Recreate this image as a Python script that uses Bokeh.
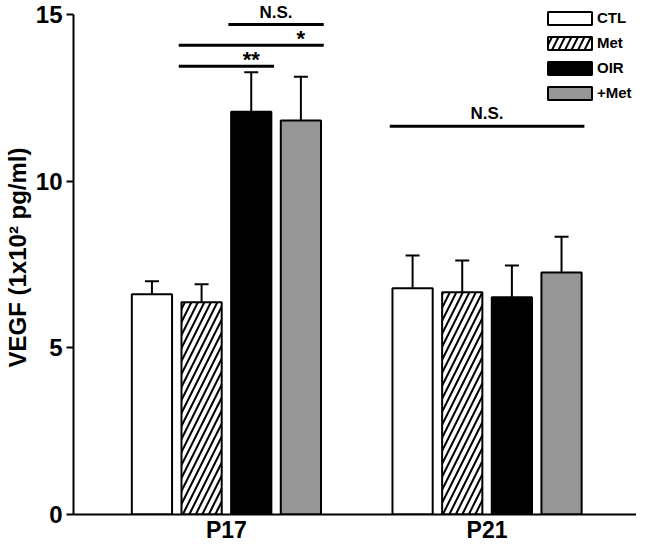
from bokeh.plotting import figure
from bokeh.models import (Range1d, FixedTicker, Whisker, TeeHead, ColumnDataSource,
                          Legend, LegendItem)
from bokeh.core.properties import value
from bokeh.embed import file_html
from bokeh.resources import INLINE

# ---------------- data ----------------
groups = ["P17", "P21"]
series = ["CTL", "Met", "OIR", "+Met"]
mean_p17 = [6.61, 6.37, 12.08, 11.82]
mean_p21 = [6.79, 6.67, 6.52, 7.26]
sem_p17 = [0.39, 0.54, 1.19, 1.31]
sem_p21 = [0.98, 0.95, 0.95, 1.07]
y_ticks = [0, 5, 10, 15]

# significance annotations
sig_group = ["P17", "P17", "P17", "P21"]
sig_from = ["Met", "Met", "OIR", "CTL"]
sig_to = ["OIR", "+Met", "+Met", "+Met"]
sig_label = ["**", "*", "N.S.", "N.S."]
sig_level = [13.45, 14.08, 14.70, 11.65]

# ---------------- layout / style ----------------
FONT = "Liberation Sans"
group_pos = {"P17": 0.0, "P21": 5.25}
bar_width = 0.81
fills = {"CTL": "white", "Met": "white", "OIR": "black", "+Met": "#969696"}
hatches = {"CTL": None, "Met": "/", "OIR": None, "+Met": None}

means = {"P17": mean_p17, "P21": mean_p21}
sems = {"P17": sem_p17, "P21": sem_p21}

def bar_x(g, s):
    return group_pos[g] + series.index(s)

p = figure(width=636, height=545,
           x_range=Range1d(-1.58, 9.76), y_range=Range1d(0, 15.42),
           output_backend="svg", toolbar_location=None,
           min_border_left=69, min_border_right=0, min_border_top=0,
           min_border_bottom=29)
p.outline_line_color = None
p.grid.visible = False
p.background_fill_color = "white"

renderers = {}
for s in series:
    i = series.index(s)
    src = ColumnDataSource(dict(
        x=[bar_x(g, s) for g in groups],
        top=[means[g][i] for g in groups],
        upper=[means[g][i] + sems[g][i] for g in groups],
    ))
    kw = {}
    if hatches[s]:
        kw = dict(hatch_pattern=hatches[s], hatch_color="black",
                  hatch_weight=2, hatch_scale=13)
    r = p.vbar(x="x", top="top", width=bar_width, bottom=0, source=src,
               fill_color=fills[s], line_color="black", line_width=2, **kw)
    renderers[s] = r
    w = Whisker(base="x", lower="top", upper="upper", source=src,
                line_color="black", line_width=2,
                upper_head=TeeHead(size=14, line_width=2, line_color="black"),
                lower_head=None)
    p.add_layout(w)

# significance lines and labels
x0s, x1s, lx, ly, lt = [], [], [], [], []
for g, a, b, lab, lev in zip(sig_group, sig_from, sig_to, sig_label, sig_level):
    xa = bar_x(g, a) - 0.46
    xb = bar_x(g, b) + 0.46
    x0s.append(xa)
    x1s.append(xb)
    if lab == "N.S.":
        lx.append((xa + xb) / 2)
        ly.append(lev + 0.37)
    else:
        lx.append(bar_x(g, b))
        ly.append(lev + 0.2)
    lt.append(lab)

p.segment(x0=x0s, y0=sig_level, x1=x1s, y1=sig_level,
          line_color="black", line_width=3)
ns = [k for k in range(len(lt)) if lt[k] == "N.S."]
st = [k for k in range(len(lt)) if lt[k] != "N.S."]
p.text(x=[lx[k] for k in ns], y=[ly[k] for k in ns], text=[lt[k] for k in ns],
       text_font=value(FONT), text_font_style="bold", text_font_size="17px",
       text_align="center", text_baseline="middle", text_color="black")
p.text(x=[lx[k] for k in st], y=[ly[k] for k in st], text=[lt[k] for k in st],
       text_font=value(FONT), text_font_style="bold", text_font_size="22px",
       text_align="center", text_baseline="middle", text_color="black")

# axes
yax = p.yaxis[0]
yax.ticker = FixedTicker(ticks=y_ticks)
yax.bounds = (0, 15)
yax.axis_line_width = 2
yax.major_tick_line_width = 2
yax.major_tick_out = 7
yax.major_tick_in = 0
yax.minor_tick_line_color = None
yax.major_label_standoff = 4
yax.major_label_text_font = FONT
yax.major_label_text_font_style = "bold"
yax.major_label_text_font_size = "24px"
yax.major_label_text_color = "black"
yax.axis_label = "VEGF (1x10\u00b2 pg/ml)"
yax.axis_label_text_font = FONT
yax.axis_label_text_font_style = "bold"
yax.axis_label_text_font_size = "24px"
yax.axis_label_standoff = 2
yax.axis_label_text_color = "black"

xax = p.xaxis[0]
centers = [group_pos[g] + (len(series) - 1) / 2 for g in groups]
xax.ticker = FixedTicker(ticks=centers)
xax.major_label_overrides = {c: g for c, g in zip(centers, groups)}
xax.axis_line_width = 2
xax.major_tick_line_color = None
xax.minor_tick_line_color = None
xax.major_tick_out = 0
xax.major_tick_in = 0
xax.major_label_standoff = 2
xax.major_label_text_font = FONT
xax.major_label_text_font_style = "bold"
xax.major_label_text_font_size = "23px"
xax.major_label_text_color = "black"

legend = Legend(items=[LegendItem(label=s, renderers=[renderers[s]]) for s in series],
                location=(469, 413))
legend.margin = 0
legend.padding = 0
legend.spacing = 8
legend.glyph_width = 55
legend.glyph_height = 16
legend.label_height = 16
legend.label_width = 20
legend.label_standoff = 0
legend.label_text_font = FONT
legend.label_text_font_style = "bold"
legend.label_text_font_size = "15px"
legend.label_text_color = "black"
legend.border_line_color = None
legend.background_fill_alpha = 0
p.add_layout(legend)

open("out.html", "w").write(file_html(p, INLINE))
